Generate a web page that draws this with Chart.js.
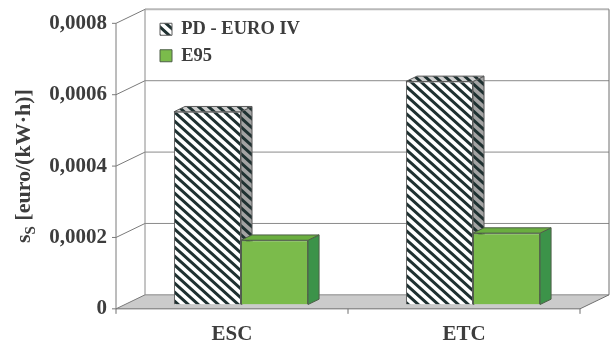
<!DOCTYPE html>
<html>
<head>
<meta charset="utf-8">
<script src="https://cdn.jsdelivr.net/npm/chart.js@4/dist/chart.umd.min.js"></script>
<style>
  html, body { margin: 0; padding: 0; background: #ffffff; }
  canvas { display: block; }
</style>
</head>
<body>
<canvas id="c" width="611" height="345"></canvas>
<script>
// Specific sulphur cost per test cycle
const categories = ['ESC', 'ETC'];
const seriesNames = ['PD - EURO IV', 'E95'];
const pdEuroIV = [0.00054, 0.000625];
const e95 = [0.00018, 0.0002];
const yTickValues = [0, 0.0002, 0.0004, 0.0006, 0.0008];

const FONT = "'Liberation Serif', 'Times New Roman', serif";
const TEXT = '#3d3d3d';
const STRIPE = '#1f3131';

const ctx = document.getElementById('c').getContext('2d');

// Diagonal "\" stripes on a given ground colour
function stripes(bg) {
  const w = 10, h = 9;
  const t = document.createElement('canvas');
  t.width = w; t.height = h;
  const g = t.getContext('2d');
  g.fillStyle = bg;
  g.fillRect(0, 0, w, h);
  g.strokeStyle = STRIPE;
  g.lineWidth = 3;
  g.beginPath();
  for (let k = -3; k <= 3; k++) {
    g.moveTo(-w, -h + k * h);
    g.lineTo(2 * w, 2 * h + k * h);
  }
  g.stroke();
  return ctx.createPattern(t, 'repeat');
}

const faces = [
  { front: stripes('#ffffff'), side: stripes('#a3a3a3'), top: stripes('#cfcfcf'), edge: '#5a5a5a' },
  { front: '#7bbb4b', side: '#3c9349', top: '#6aae3f', edge: '#4e5f48' }
];

// Oblique box frame: back wall, left wall edges, floor, front axis, bar depth
const frame3d = {
  id: 'frame3d',
  afterLayout(chart, args, o) {
    const lg = chart.legend;
    lg.left = o.legendLeft; lg.top = o.legendTop;
    lg.width = 260; lg.height = 80;
    lg.right = lg.left + lg.width; lg.bottom = lg.top + lg.height;
  },
  beforeDatasetsDraw(chart, args, o) {
    const c = chart.ctx;
    const xs = chart.scales.x, ys = chart.scales.y;
    const L = xs.left, R = xs.right;
    const y0 = ys.getPixelForValue(0);
    const yMax = ys.getPixelForValue(ys.max);
    const fx = -o.front * o.dx, fy = -o.front * o.dy;
    const bx = (1 - o.front) * o.dx, by = (1 - o.front) * o.dy;
    const line = (x1, y1, x2, y2, col, w) => {
      c.beginPath(); c.moveTo(x1, y1); c.lineTo(x2, y2);
      c.strokeStyle = col; c.lineWidth = w || 1; c.stroke();
    };
    c.save();
    // floor
    c.beginPath();
    c.moveTo(L + fx, y0 + fy); c.lineTo(R + fx, y0 + fy);
    c.lineTo(R + bx, y0 + by); c.lineTo(L + bx, y0 + by); c.closePath();
    c.fillStyle = '#cbcbcb'; c.fill();
    line(L + bx, y0 + by, R + bx, y0 + by, '#8a8a8a');
    line(R + fx, y0 + fy, R + bx, y0 + by, '#6e6e6e');
    line(L + fx, y0 + fy, R + fx, y0 + fy, '#6e6e6e');
    // back wall grid and edges
    yTickValues.forEach(v => {
      const p = ys.getPixelForValue(v);
      if (v > 0 && v < ys.max) line(L + bx, p + by, R + bx, p + by, '#8a8a8a');
      line(L + fx, p + fy, L + bx, p + by, '#7a7a7a');
      line(L + fx - 4, p + fy, L + fx, p + fy, '#7a7a7a');
    });
    line(L + bx, yMax + by, R + bx, yMax + by, '#b8b8b8', 2);
    line(L + bx, y0 + by, L + bx, yMax + by, '#8a8a8a');
    line(R + bx, y0 + by, R + bx, yMax + by, '#6e6e6e');
    // front value axis
    line(L + fx, y0 + fy, L + fx, yMax + fy, '#7a7a7a');
    // category ticks on the front edge
    const n = categories.length;
    for (let k = 0; k <= n; k++) {
      const px = L + k * (R - L) / n + fx;
      line(px, y0 + fy, px, y0 + fy + 5, '#6e6e6e');
    }
    // bar sides and tops, drawn before the library paints the front faces
    const bdx = o.bar * o.dx, bdy = o.bar * o.dy;
    for (let j = 0; j < n; j++) {
      chart.data.datasets.forEach((ds, i) => {
        const el = chart.getDatasetMeta(i).data[j];
        const l = el.x - el.width / 2, r = el.x + el.width / 2;
        const t = el.y, b = el.base;
        c.lineWidth = 1; c.strokeStyle = faces[i].edge;
        c.beginPath();
        c.moveTo(r, t); c.lineTo(r + bdx, t + bdy); c.lineTo(r + bdx, b + bdy); c.lineTo(r, b); c.closePath();
        c.fillStyle = faces[i].side; c.fill(); c.stroke();
        c.beginPath();
        c.moveTo(l, t); c.lineTo(l + bdx, t + bdy); c.lineTo(r + bdx, t + bdy); c.lineTo(r, t); c.closePath();
        c.fillStyle = faces[i].top; c.fill(); c.stroke();
      });
    }
    c.restore();
  },
  afterDraw(chart, args, o) {
    // value axis title with subscript
    const c = chart.ctx;
    const ys = chart.scales.y;
    const fy = -o.front * o.dy;
    const cy = (ys.getPixelForValue(0) + ys.getPixelForValue(ys.max)) / 2 + fy;
    const big = 'bold 22px ' + FONT, small = 'bold 15px ' + FONT;
    const rest = ' [euro/(kW\u00B7h)]';
    c.save();
    c.fillStyle = TEXT;
    c.textBaseline = 'alphabetic';
    c.textAlign = 'left';
    c.font = big; const w1 = c.measureText('s').width; const w3 = c.measureText(rest).width;
    c.font = small; const w2 = c.measureText('S').width;
    c.translate(o.titleX, cy);
    c.rotate(-Math.PI / 2);
    let x = -(w1 + w2 + w3) / 2;
    c.font = big; c.fillText('s', x, 0); x += w1;
    c.font = small; c.fillText('S', x, 5); x += w2;
    c.font = big; c.fillText(rest, x, 0);
    c.restore();
  }
};

new Chart(ctx, {
  type: 'bar',
  data: {
    labels: categories,
    datasets: [
      { label: seriesNames[0], data: pdEuroIV, backgroundColor: faces[0].front, borderColor: faces[0].edge, borderWidth: 1 },
      { label: seriesNames[1], data: e95, backgroundColor: faces[1].front, borderColor: faces[1].edge, borderWidth: 1 }
    ]
  },
  options: {
    responsive: false,
    animation: false,
    events: [],
    devicePixelRatio: 1,
    layout: { padding: { left: 0, top: 19, right: 22, bottom: 0 } },
    datasets: { bar: { categoryPercentage: 0.578, barPercentage: 1.0 } },
    scales: {
      x: {
        grid: { display: false },
        border: { display: false },
        afterFit: s => { s.height = 40.5; s.paddingLeft = 0; s.paddingRight = 0; },
        ticks: {
          color: TEXT, padding: 9, labelOffset: -9,
          font: { family: FONT, size: 21, weight: 'bold' }
        }
      },
      y: {
        min: 0, max: 0.0008,
        grid: { display: false, drawTicks: false },
        border: { display: false },
        afterFit: s => { s.width = 125; s.paddingTop = 0; s.paddingBottom = 0; },
        afterBuildTicks: s => { s.ticks = yTickValues.map(v => ({ value: v })); },
        ticks: {
          color: TEXT, padding: 18, labelOffset: 4.34,
          font: { family: FONT, size: 21, weight: 'bold' },
          callback: v => v === 0 ? '0' : v.toFixed(4).replace('.', ',')
        }
      }
    },
    plugins: {
      tooltip: { enabled: false },
      legend: {
        position: 'chartArea',
        align: 'start',
        labels: {
          color: TEXT, boxWidth: 12, boxHeight: 12, padding: 8,
          font: { family: FONT, size: 18.5, weight: 'bold' }
        }
      },
      frame3d: { dx: 29, dy: -14, front: 0.31, bar: 0.38, titleX: 30, legendLeft: 152, legendTop: 12 }
    }
  },
  plugins: [frame3d]
});
</script>
</body>
</html>
